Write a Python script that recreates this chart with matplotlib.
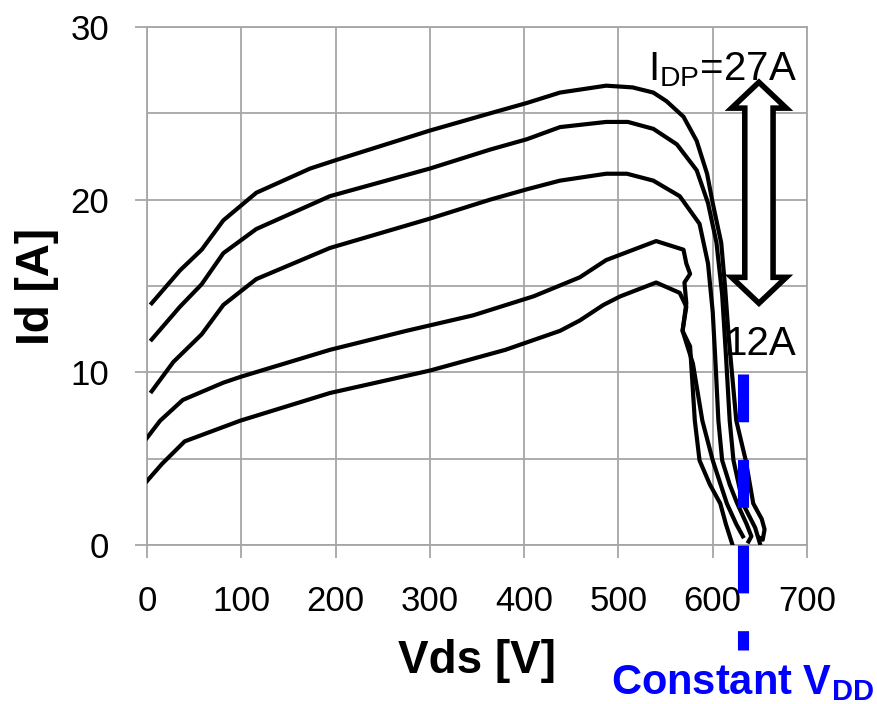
import matplotlib
matplotlib.use("Agg")
import matplotlib.pyplot as plt
import numpy as np
from matplotlib.patches import Polygon

plt.rcParams['font.family'] = ['Liberation Sans', 'DejaVu Sans']
plt.rcParams['mathtext.default'] = 'regular'

# Id-Vds switching curves
v1 = [5, 35, 58, 81, 116, 173, 201, 300, 364, 403, 438, 487, 515, 537, 551, 569, 583, 594, 600, 609,
      613, 617, 625, 635, 643, 652, 655, 653, 650]
i1 = [14.0, 15.9, 17.1, 18.8, 20.4, 21.8, 22.3, 24.0, 25.0, 25.6, 26.2, 26.6, 26.5, 26.2, 25.7, 24.8,
      23.4, 21.5, 19.8, 17.5, 15.0, 12.0, 7.2, 4.9, 2.4, 1.5, 0.9, 0.3, 0.4]

v2 = [5, 35, 58, 81, 116, 194, 300, 364, 403, 438, 487, 510, 537, 562, 583, 595, 604, 610, 614, 618,
      622, 632, 645, 650]
i2 = [11.9, 13.8, 15.1, 16.9, 18.3, 20.2, 21.8, 22.9, 23.5, 24.2, 24.5, 24.5, 24.1, 23.2, 21.7, 19.8,
      17.5, 14.5, 11.0, 7.2, 4.9, 2.4, 1.0, 0.1]

v3 = [5, 28, 58, 81, 116, 194, 300, 364, 403, 438, 487, 509, 537, 565, 586, 595, 600, 603, 606, 610,
      618, 626, 636, 641, 638]
i3 = [8.9, 10.6, 12.2, 13.9, 15.4, 17.2, 18.9, 20.0, 20.6, 21.1, 21.5, 21.5, 21.1, 20.2, 18.6, 16.3,
      13.5, 10.5, 7.2, 4.9, 3.5, 2.4, 1.2, 0.5, 0.2]

v4 = [0, 14, 38, 81, 100, 194, 275, 346, 410, 459, 487, 540, 569, 572, 576, 570, 572, 568, 579, 589,
      600, 615, 625, 632]
i4 = [6.2, 7.2, 8.4, 9.4, 9.75, 11.3, 12.4, 13.3, 14.4, 15.5, 16.5, 17.6, 17.1, 16.3, 15.7, 15.2,
      14.0, 12.4, 10.5, 7.2, 4.9, 2.4, 1.2, 0.5]

v5 = [0, 16, 40, 99, 194, 300, 380, 438, 459, 484, 502, 540, 565, 572, 568, 576, 581, 586, 597, 608,
      614, 621]
i5 = [3.7, 4.7, 6.0, 7.2, 8.8, 10.1, 11.3, 12.4, 13.0, 13.9, 14.4, 15.2, 14.6, 13.8, 12.4, 11.5,
      7.2, 4.9, 3.5, 2.4, 1.2, 0.0]

curves = [(v1, i1), (v2, i2), (v3, i3), (v4, i4), (v5, i5)]

vdd = 632          # constant VDD marker position [V]
idp_hi, idp_lo = 27, 12
xticks = [0, 100, 200, 300, 400, 500, 600, 700]
yticks = [0, 10, 20, 30]

fig = plt.figure(figsize=(8.77, 7.04), dpi=100)
ax = fig.add_axes([0.1676, 0.2259, 0.7526, 0.7358])

for v, i in curves:
    ax.plot(v, i, color='black', lw=3.0, solid_joinstyle='round', zorder=3)

ax.set_xlim(0, 700)
ax.set_ylim(0, 30)
ax.set_xticks(xticks)
ax.set_yticks(yticks)
ax.set_yticks([5, 15, 25], minor=True)
ax.grid(True, which='both', color='#a6a6a6', lw=1.3)
ax.set_axisbelow(True)
for s in ax.spines.values():
    s.set_color('#a6a6a6')
    s.set_linewidth(1.3)
ax.tick_params(which='major', length=9, width=1.3, color='#a6a6a6', labelsize=25, pad=20)
ax.tick_params(axis='y', which='major', pad=18)
ax.tick_params(which='minor', length=0)

ax.set_xlabel('Vds [V]', fontsize=33, fontweight='bold')
ax.xaxis.set_label_coords(0.5, -0.182)
ax.set_ylabel('Id [A]', fontsize=33, fontweight='bold')
ax.yaxis.set_label_coords(-0.133, 0.5)

# blue dashed constant VDD marker, extends below the axis
ax.plot([vdd, vdd], [9.9, -6.1], color='#0000ff', lw=8, dashes=(4.3, 3.4),
        solid_capstyle='butt', dash_capstyle='butt', clip_on=False, zorder=4)
ax.text(492, -8.65, r'Constant V$_{DD}$', color='#0000ff', fontsize=30, fontweight='bold',
        ha='left', va='baseline', clip_on=False)

# hollow double arrow between the two peak currents
xc, hw, sw = 649, 29, 15
top, bot, hl = 26.8, 14.0, 1.5
arrow = Polygon([[xc, top], [xc + hw, top - hl], [xc + sw, top - hl], [xc + sw, bot + hl],
                 [xc + hw, bot + hl], [xc, bot], [xc - hw, bot + hl], [xc - sw, bot + hl],
                 [xc - sw, top - hl], [xc - hw, top - hl]],
                closed=True, facecolor='white', edgecolor='black', lw=4, joinstyle='miter', zorder=5)
ax.add_patch(arrow)
ax.text(689, 26.9, r'I$_{DP}$=%dA' % idp_hi, fontsize=29, ha='right', va='baseline', zorder=6)
ax.text(689, 11.0, '%dA' % idp_lo, fontsize=29, ha='right', va='baseline', zorder=6)

fig.savefig('out.png', dpi=100)
